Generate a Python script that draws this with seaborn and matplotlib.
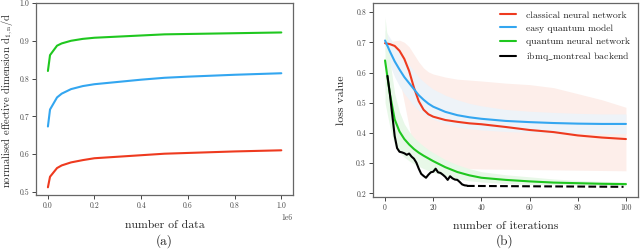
import numpy as np
import pandas as pd
import matplotlib
matplotlib.use("Agg")
import matplotlib.pyplot as plt
import seaborn as sns

# ---------------- data: panel (a) ----------------
n_data = [1000, 10000, 40000, 60000, 100000, 150000, 200000, 300000,
          400000, 500000, 600000, 800000, 1000000]
ed_qnn = [0.820, 0.862, 0.887, 0.893, 0.900, 0.905, 0.908, 0.911,
          0.914, 0.917, 0.918, 0.920, 0.922]
ed_easy = [0.673, 0.718, 0.750, 0.760, 0.772, 0.780, 0.785, 0.791,
           0.797, 0.802, 0.805, 0.810, 0.814]
ed_classical = [0.512, 0.540, 0.563, 0.570, 0.578, 0.584, 0.589, 0.593,
                0.597, 0.601, 0.603, 0.607, 0.610]

# ---------------- data: panel (b) ----------------
iters = [0, 2, 4, 6, 8, 10, 12, 14, 16, 18, 20, 25, 30, 35, 40, 50, 60, 70, 80, 90, 100]
loss_classical = [0.697, 0.694, 0.688, 0.672, 0.645, 0.605, 0.550, 0.505, 0.477, 0.462,
                  0.454, 0.443, 0.437, 0.432, 0.429, 0.420, 0.410, 0.403, 0.392, 0.385, 0.380]
cl_upper = [0.700, 0.702, 0.705, 0.707, 0.700, 0.685, 0.660, 0.635, 0.615, 0.602,
            0.595, 0.585, 0.578, 0.575, 0.572, 0.565, 0.560, 0.550, 0.530, 0.510, 0.485]
cl_lower = [0.690, 0.680, 0.640, 0.580, 0.500, 0.420, 0.340, 0.300, 0.290, 0.287,
            0.285, 0.284, 0.283, 0.282, 0.281, 0.280, 0.279, 0.278, 0.277, 0.276, 0.275]

loss_easy = [0.706, 0.670, 0.637, 0.610, 0.585, 0.565, 0.545, 0.525, 0.510, 0.497,
             0.487, 0.470, 0.459, 0.452, 0.447, 0.440, 0.436, 0.433, 0.431, 0.430, 0.430]
ez_upper = [0.740, 0.715, 0.690, 0.665, 0.645, 0.625, 0.605, 0.585, 0.570, 0.557,
            0.545, 0.525, 0.510, 0.498, 0.490, 0.478, 0.472, 0.468, 0.465, 0.463, 0.463]
ez_lower = [0.670, 0.625, 0.585, 0.555, 0.530, 0.510, 0.490, 0.475, 0.463, 0.452,
            0.445, 0.430, 0.420, 0.414, 0.410, 0.405, 0.402, 0.400, 0.399, 0.398, 0.398]

loss_qnn = [0.640, 0.530, 0.445, 0.405, 0.380, 0.362, 0.347, 0.335, 0.325, 0.316,
            0.307, 0.287, 0.271, 0.260, 0.252, 0.245, 0.240, 0.236, 0.234, 0.232, 0.231]
qn_upper = [0.783, 0.640, 0.530, 0.470, 0.430, 0.405, 0.385, 0.370, 0.357, 0.345,
            0.335, 0.312, 0.295, 0.282, 0.272, 0.262, 0.255, 0.248, 0.243, 0.240, 0.238]
qn_lower = [0.500, 0.420, 0.360, 0.335, 0.320, 0.308, 0.298, 0.290, 0.282, 0.276,
            0.270, 0.258, 0.248, 0.242, 0.238, 0.233, 0.230, 0.228, 0.227, 0.226, 0.225]

hw_iters = list(range(1, 35))
loss_hw = [0.589, 0.530, 0.460, 0.390, 0.350, 0.338, 0.336, 0.333, 0.328, 0.332,
           0.322, 0.315, 0.302, 0.282, 0.265, 0.258, 0.252, 0.262, 0.270, 0.272,
           0.282, 0.270, 0.268, 0.262, 0.255, 0.245, 0.257, 0.250, 0.246, 0.245,
           0.238, 0.230, 0.227, 0.226]
hw_tail_iters = [34, 99]
loss_hw_tail = [0.225, 0.222]

labels = ["classical neural network", "easy quantum model",
          "quantum neural network", r"ibmq$\_$montreal backend"]
c_red, c_blue, c_green, c_black = "#ee3a1f", "#33a6f0", "#1fc71f", "#000000"

# ---------------- style ----------------
sns.set_style("white")
plt.rcParams["font.family"] = ["cmr10", "DejaVu Serif"]
plt.rcParams["mathtext.fontset"] = "cm"
plt.rcParams["axes.edgecolor"] = "#666666"
plt.rcParams["axes.linewidth"] = 0.9
plt.rcParams["xtick.bottom"] = True
plt.rcParams["ytick.left"] = True
plt.rcParams["xtick.major.size"] = 3
plt.rcParams["ytick.major.size"] = 3
plt.rcParams["xtick.major.width"] = 0.7
plt.rcParams["ytick.major.width"] = 0.7
plt.rcParams["xtick.color"] = "#444444"
plt.rcParams["ytick.color"] = "#444444"

W, H = 640, 249
fig = plt.figure(figsize=(W / 100, H / 100), dpi=100)

def box(x0, y0, x1, y1):
    return [x0 / W, 1 - y1 / H, (x1 - x0) / W, (y1 - y0) / H]

ax1 = fig.add_axes(box(36, 3, 293, 194.5))
ax2 = fig.add_axes(box(373, 3, 638, 196.5))

lw = 1.5
# ---- panel (a)
sns.lineplot(x=n_data, y=ed_qnn, ax=ax1, color=c_green, lw=lw)
sns.lineplot(x=n_data, y=ed_easy, ax=ax1, color=c_blue, lw=lw)
sns.lineplot(x=n_data, y=ed_classical, ax=ax1, color=c_red, lw=lw)
ax1.set_ylim(0.493, 1.0)
ax1.set_xlim(-0.05e6, 1.05e6)
ax1.set_xticks([0, 0.2e6, 0.4e6, 0.6e6, 0.8e6, 1.0e6])
ax1.set_yticks([0.5, 0.6, 0.7, 0.8, 0.9, 1.0])
ax1.tick_params(labelsize=5.5, pad=2)
ax1.xaxis.get_offset_text().set_fontsize(5.5)
ax1.set_xlabel("number of data", fontsize=8.5)
ax1.set_ylabel(r"normalised effective dimension $\mathrm{d_{1,n}/d}$", fontsize=7.6)
ax1.yaxis.set_label_coords(-0.082, 0.49)
ax1.xaxis.set_label_coords(0.5, -0.135)

# ---- panel (b)
ax2.fill_between(iters, cl_lower, cl_upper, color="#fdeeea", lw=0)
ax2.fill_between(iters, ez_lower, ez_upper, color="#eef3f8", lw=0)
ax2.fill_between(iters, qn_lower, qn_upper, color="#e8f8e8", lw=0)
sns.lineplot(x=iters, y=loss_classical, ax=ax2, color=c_red, lw=lw, label=labels[0])
sns.lineplot(x=iters, y=loss_easy, ax=ax2, color=c_blue, lw=lw, label=labels[1])
sns.lineplot(x=iters, y=loss_qnn, ax=ax2, color=c_green, lw=lw, label=labels[2])
sns.lineplot(x=hw_iters, y=loss_hw, ax=ax2, color=c_black, lw=lw, label=labels[3])
sns.lineplot(x=hw_tail_iters, y=loss_hw_tail, ax=ax2, color=c_black, lw=lw, linestyle="--")
ax2.set_xlim(-5, 105)
ax2.set_ylim(0.19, 0.83)
ax2.set_xticks([0, 20, 40, 60, 80, 100])
ax2.set_yticks([0.2, 0.3, 0.4, 0.5, 0.6, 0.7, 0.8])
ax2.tick_params(labelsize=5.5, pad=2)
ax2.set_xlabel("number of iterations", fontsize=8.5)
ax2.set_ylabel("loss value", fontsize=8.5)
ax2.yaxis.set_label_coords(-0.1, 0.5)
ax2.xaxis.set_label_coords(0.5, -0.13)
ax2.legend(loc="upper right", frameon=False, fontsize=7, handlelength=1.6,
           handletextpad=1.1, labelspacing=0.45, borderaxespad=0.4)

fig.text(164 / W, 1 - 241 / H, "(a)", ha="center", va="center", fontsize=9.5)
fig.text(505 / W, 1 - 241 / H, "(b)", ha="center", va="center", fontsize=9.5)

fig.savefig("out.png", dpi=100)
